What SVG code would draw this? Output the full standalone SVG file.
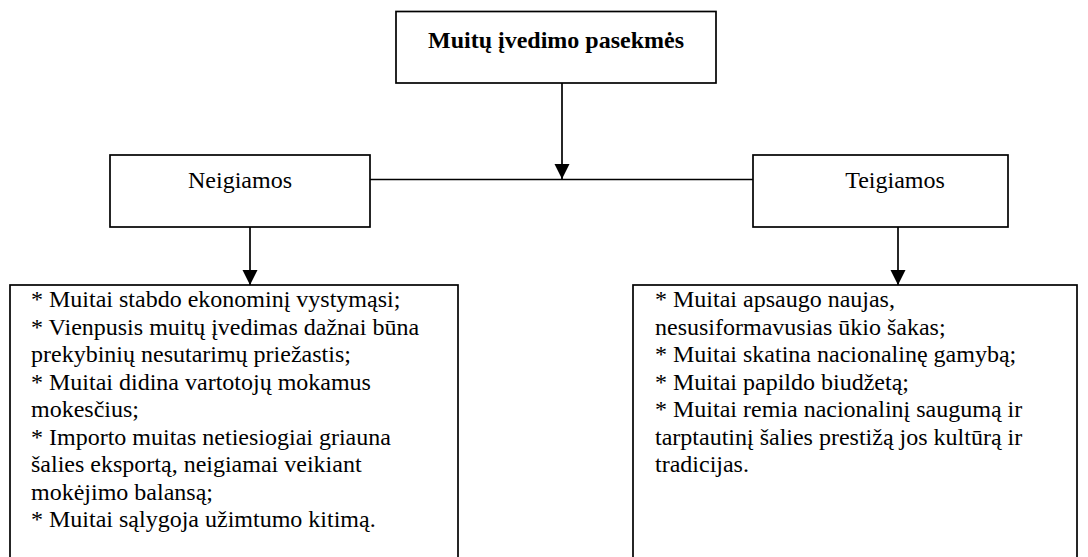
<svg xmlns="http://www.w3.org/2000/svg" width="1088" height="557" viewBox="0 0 1088 557">
<defs>
<marker id="ah" markerWidth="15" markerHeight="16" refX="15" refY="7.5" orient="auto" markerUnits="userSpaceOnUse">
<path d="M0,0 L15,7.5 L0,15 Z" fill="#000"/>
</marker>
<style>
.box{fill:#fff;stroke:#000;stroke-width:1.7}
.t{font-family:"Liberation Serif","Times New Roman",serif;font-size:24px;fill:#000}
.b{font-weight:bold}
.c{stroke:#000;stroke-width:1.7;fill:none}
</style>
</defs>
<rect width="1088" height="557" fill="#fff"/>
<g id="connectors">
<line class="c" x1="562" y1="83" x2="562" y2="179" marker-end="url(#ah)"/>
<line class="c" x1="370" y1="179.5" x2="753" y2="179.5"/>
<line class="c" x1="250" y1="227" x2="250" y2="285" marker-end="url(#ah)"/>
<line class="c" x1="898" y1="227" x2="898" y2="285" marker-end="url(#ah)"/>
</g>
<g id="top">
<rect class="box" x="396" y="11.5" width="320" height="71.5"/>
<text class="t b" x="556" y="48" text-anchor="middle">Muitų įvedimo pasekmės</text>
</g>
<g id="neg">
<rect class="box" x="110" y="155" width="260" height="72"/>
<text class="t" x="240" y="188" text-anchor="middle">Neigiamos</text>
</g>
<g id="pos">
<rect class="box" x="753" y="155" width="255" height="72"/>
<text class="t" x="895" y="188" text-anchor="middle">Teigiamos</text>
</g>
<g id="negList">
<rect class="box" x="10" y="285" width="448" height="300"/>
<text class="t" x="31" y="307">
<tspan x="31" dy="0">* Muitai stabdo ekonominį vystymąsi;</tspan>
<tspan x="31" dy="27.5">* Vienpusis muitų įvedimas dažnai būna</tspan>
<tspan x="31" dy="27.5">prekybinių nesutarimų priežastis;</tspan>
<tspan x="31" dy="27.5">* Muitai didina vartotojų mokamus</tspan>
<tspan x="31" dy="27.5">mokesčius;</tspan>
<tspan x="31" dy="27.5">* Importo muitas netiesiogiai griauna</tspan>
<tspan x="31" dy="27.5">šalies eksportą, neigiamai veikiant</tspan>
<tspan x="31" dy="27.5">mokėjimo balansą;</tspan>
<tspan x="31" dy="27.5">* Muitai sąlygoja užimtumo kitimą.</tspan>
</text>
</g>
<g id="posList">
<rect class="box" x="633" y="285" width="444" height="300"/>
<text class="t" x="655" y="307">
<tspan x="655" dy="0">* Muitai apsaugo naujas,</tspan>
<tspan x="655" dy="27.5">nesusiformavusias ūkio šakas;</tspan>
<tspan x="655" dy="27.5">* Muitai skatina nacionalinę gamybą;</tspan>
<tspan x="655" dy="27.5">* Muitai papildo biudžetą;</tspan>
<tspan x="655" dy="27.5">* Muitai remia nacionalinį saugumą ir</tspan>
<tspan x="655" dy="27.5">tarptautinį šalies prestižą jos kultūrą ir</tspan>
<tspan x="655" dy="27.5">tradicijas.</tspan>
</text>
</g>
</svg>
